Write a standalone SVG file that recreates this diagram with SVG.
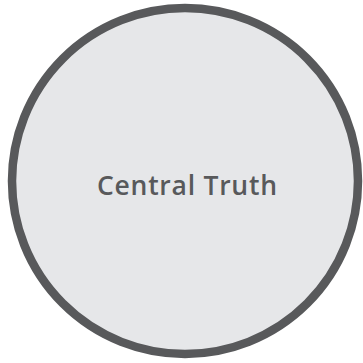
<svg xmlns="http://www.w3.org/2000/svg" width="363" height="363" viewBox="0 0 363 363">
<style>
.node{fill:#e6e7e9;stroke:#58595b;stroke-width:8.5}
.label{font-family:"Open Sans",Lato,sans-serif;font-weight:600;font-size:26.5px;fill:#58595b;text-anchor:middle}
</style>
<rect width="363" height="363" fill="#ffffff"/>
<g id="central-truth">
<circle class="node" cx="185" cy="181" r="173"/>
<text class="label" x="187" y="195" textLength="180" lengthAdjust="spacing">Central Truth</text>
</g>
<g id="connectors"></g>
</svg>
